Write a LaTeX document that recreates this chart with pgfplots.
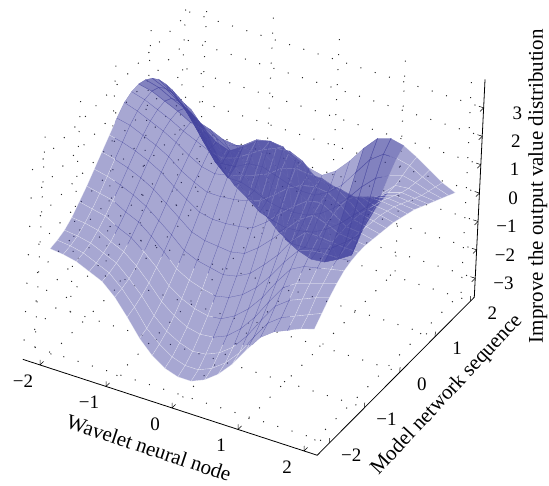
\documentclass[border=0pt]{standalone}
\usepackage{pgfplots}
\usepackage{pgfplotstable}
\pgfplotsset{compat=1.18}
\usepackage{fontspec}
\setmainfont{Liberation Serif}
\definecolor{surfc}{RGB}{60,60,155}
\definecolor{meshd}{RGB}{70,70,160}
\pgfplotstableread[row sep=\\]{
x y z\\
-2 -2 0\\ -2 -1.8 .05\\ -2 -1.6 .15\\ -2 -1.4 .35\\ -2 -1.2 .65\\ -2 -1 .95\\ -2 -.8 1.3\\ -2 -.6 1.65\\ -2 -.4 2\\ -2 -.2 2.35\\ -2 0 2.65\\ -2 .2 2.78\\ -2 .4 2.8\\ -2 .6 2.7\\ -2 .8 2.5\\ -2 1 2.2\\ -2 1.2 1.8\\ -2 1.4 1.35\\ -2 1.6 .85\\ -2 1.8 .35\\ -2 2 -.1\\
-1.8 -2 -.05\\ -1.8 -1.8 0\\ -1.8 -1.6 .1\\ -1.8 -1.4 .3\\ -1.8 -1.2 .55\\ -1.8 -1 .85\\ -1.8 -.8 1.2\\ -1.8 -.6 1.55\\ -1.8 -.4 1.9\\ -1.8 -.2 2.25\\ -1.8 0 2.5\\ -1.8 .2 2.65\\ -1.8 .4 2.7\\ -1.8 .6 2.58\\ -1.8 .8 2.3\\ -1.8 1 1.9\\ -1.8 1.2 1.4\\ -1.8 1.4 .85\\ -1.8 1.6 .3\\ -1.8 1.8 -.25\\ -1.8 2 -.6\\
-1.6 -2 -.15\\ -1.6 -1.8 -.1\\ -1.6 -1.6 0\\ -1.6 -1.4 .2\\ -1.6 -1.2 .45\\ -1.6 -1 .75\\ -1.6 -.8 1.05\\ -1.6 -.6 1.4\\ -1.6 -.4 1.75\\ -1.6 -.2 2.05\\ -1.6 0 2.3\\ -1.6 .2 2.45\\ -1.6 .4 2.5\\ -1.6 .6 2.35\\ -1.6 .8 2\\ -1.6 1 1.5\\ -1.6 1.2 .9\\ -1.6 1.4 .25\\ -1.6 1.6 -.4\\ -1.6 1.8 -.95\\ -1.6 2 -.95\\
-1.4 -2 -.35\\ -1.4 -1.8 -.3\\ -1.4 -1.6 -.2\\ -1.4 -1.4 -.05\\ -1.4 -1.2 .2\\ -1.4 -1 .5\\ -1.4 -.8 .85\\ -1.4 -.6 1.2\\ -1.4 -.4 1.55\\ -1.4 -.2 1.85\\ -1.4 0 2.1\\ -1.4 .2 2.25\\ -1.4 .4 2.3\\ -1.4 .6 2.15\\ -1.4 .8 1.75\\ -1.4 1 1.15\\ -1.4 1.2 .45\\ -1.4 1.4 -.3\\ -1.4 1.6 -1\\ -1.4 1.8 -1.3\\ -1.4 2 -1.1\\
-1.2 -2 -.55\\ -1.2 -1.8 -.5\\ -1.2 -1.6 -.4\\ -1.2 -1.4 -.25\\ -1.2 -1.2 0\\ -1.2 -1 .3\\ -1.2 -.8 .6\\ -1.2 -.6 .95\\ -1.2 -.4 1.3\\ -1.2 -.2 1.6\\ -1.2 0 1.85\\ -1.2 .2 2\\ -1.2 .4 2.05\\ -1.2 .6 1.85\\ -1.2 .8 1.4\\ -1.2 1 .75\\ -1.2 1.2 0\\ -1.2 1.4 -.8\\ -1.2 1.6 -1.4\\ -1.2 1.8 -1.25\\ -1.2 2 -.8\\
-1 -2 -.95\\ -1 -1.8 -.9\\ -1 -1.6 -.8\\ -1 -1.4 -.6\\ -1 -1.2 -.35\\ -1 -1 -.05\\ -1 -.8 .25\\ -1 -.6 .6\\ -1 -.4 .95\\ -1 -.2 1.25\\ -1 0 1.55\\ -1 .2 1.8\\ -1 .4 1.95\\ -1 .6 1.7\\ -1 .8 1.15\\ -1 1 .35\\ -1 1.2 -.5\\ -1 1.4 -1.25\\ -1 1.6 -1.4\\ -1 1.8 -1\\ -1 2 -.45\\
-.8 -2 -1.5\\ -.8 -1.8 -1.4\\ -.8 -1.6 -1.25\\ -.8 -1.4 -1.05\\ -.8 -1.2 -.75\\ -.8 -1 -.45\\ -.8 -.8 -.1\\ -.8 -.6 .25\\ -.8 -.4 .65\\ -.8 -.2 1\\ -.8 0 1.3\\ -.8 .2 1.6\\ -.8 .4 1.75\\ -.8 .6 1.5\\ -.8 .8 .9\\ -.8 1 .05\\ -.8 1.2 -.9\\ -.8 1.4 -1.55\\ -.8 1.6 -1.55\\ -.8 1.8 -.95\\ -.8 2 -.3\\
-.6 -2 -2.1\\ -.6 -1.8 -2\\ -.6 -1.6 -1.8\\ -.6 -1.4 -1.55\\ -.6 -1.2 -1.25\\ -.6 -1 -.9\\ -.6 -.8 -.5\\ -.6 -.6 -.1\\ -.6 -.4 .35\\ -.6 -.2 .8\\ -.6 0 1.2\\ -.6 .2 1.5\\ -.6 .4 1.7\\ -.6 .6 1.45\\ -.6 .8 .75\\ -.6 1 -.25\\ -.6 1.2 -1.3\\ -.6 1.4 -1.9\\ -.6 1.6 -1.75\\ -.6 1.8 -1.1\\ -.6 2 -.4\\
-.4 -2 -2.55\\ -.4 -1.8 -2.4\\ -.4 -1.6 -2.2\\ -.4 -1.4 -1.9\\ -.4 -1.2 -1.55\\ -.4 -1 -1.15\\ -.4 -.8 -.7\\ -.4 -.6 -.25\\ -.4 -.4 .25\\ -.4 -.2 .8\\ -.4 0 1.3\\ -.4 .2 1.65\\ -.4 .4 1.85\\ -.4 .6 1.45\\ -.4 .8 .55\\ -.4 1 -.6\\ -.4 1.2 -1.65\\ -.4 1.4 -2.05\\ -.4 1.6 -1.85\\ -.4 1.8 -1.25\\ -.4 2 -.6\\
-.2 -2 -2.85\\ -.2 -1.8 -2.7\\ -.2 -1.6 -2.45\\ -.2 -1.4 -2.15\\ -.2 -1.2 -1.75\\ -.2 -1 -1.3\\ -.2 -.8 -.8\\ -.2 -.6 -.3\\ -.2 -.4 .25\\ -.2 -.2 .85\\ -.2 0 1.45\\ -.2 .2 1.95\\ -.2 .4 2.2\\ -.2 .6 1.5\\ -.2 .8 .35\\ -.2 1 -1\\ -.2 1.2 -2.05\\ -.2 1.4 -2.15\\ -.2 1.6 -1.85\\ -.2 1.8 -1.35\\ -.2 2 -.8\\
0 -2 -3\\ 0 -1.8 -2.85\\ 0 -1.6 -2.6\\ 0 -1.4 -2.25\\ 0 -1.2 -1.85\\ 0 -1 -1.4\\ 0 -.8 -.9\\ 0 -.6 -.35\\ 0 -.4 .3\\ 0 -.2 .95\\ 0 0 1.6\\ 0 .2 2.25\\ 0 .4 2.3\\ 0 .6 1.2\\ 0 .8 -.2\\ 0 1 -1.9\\ 0 1.2 -2.3\\ 0 1.4 -2.1\\ 0 1.6 -1.8\\ 0 1.8 -1.35\\ 0 2 -.9\\
.2 -2 -3\\ .2 -1.8 -2.85\\ .2 -1.6 -2.55\\ .2 -1.4 -2.2\\ .2 -1.2 -1.8\\ .2 -1 -1.3\\ .2 -.8 -.8\\ .2 -.6 -.25\\ .2 -.4 .4\\ .2 -.2 1.1\\ .2 0 1.8\\ .2 .2 2.45\\ .2 .4 2.25\\ .2 .6 .9\\ .2 .8 -.7\\ .2 1 -2.15\\ .2 1.2 -2.3\\ .2 1.4 -2\\ .2 1.6 -1.6\\ .2 1.8 -1.1\\ .2 2 -.6\\
.4 -2 -2.8\\ .4 -1.8 -2.65\\ .4 -1.6 -2.35\\ .4 -1.4 -2\\ .4 -1.2 -1.55\\ .4 -1 -1.05\\ .4 -.8 -.55\\ .4 -.6 .1\\ .4 -.4 .75\\ .4 -.2 1.45\\ .4 0 2.15\\ .4 .2 2.5\\ .4 .4 1.85\\ .4 .6 .5\\ .4 .8 -1.05\\ .4 1 -2.3\\ .4 1.2 -2.2\\ .4 1.4 -1.75\\ .4 1.6 -1.25\\ .4 1.8 -.7\\ .4 2 -.1\\
.6 -2 -2.45\\ .6 -1.8 -2.3\\ .6 -1.6 -2\\ .6 -1.4 -1.6\\ .6 -1.2 -1.15\\ .6 -1 -.65\\ .6 -.8 -.1\\ .6 -.6 .55\\ .6 -.4 1.2\\ .6 -.2 1.85\\ .6 0 2.3\\ .6 .2 2.3\\ .6 .4 1.45\\ .6 .6 .15\\ .6 .8 -1.2\\ .6 1 -2.25\\ .6 1.2 -2\\ .6 1.4 -1.4\\ .6 1.6 -.75\\ .6 1.8 -.1\\ .6 2 .5\\
.8 -2 -1.95\\ .8 -1.8 -1.8\\ .8 -1.6 -1.45\\ .8 -1.4 -1.05\\ .8 -1.2 -.6\\ .8 -1 -.1\\ .8 -.8 .4\\ .8 -.6 1.05\\ .8 -.4 1.6\\ .8 -.2 2.1\\ .8 0 2.25\\ .8 .2 1.9\\ .8 .4 1\\ .8 .6 -.15\\ .8 .8 -1.25\\ .8 1 -2\\ .8 1.2 -1.65\\ .8 1.4 -.95\\ .8 1.6 -.2\\ .8 1.8 .5\\ .8 2 1\\
1 -2 -1.3\\ 1 -1.8 -1.1\\ 1 -1.6 -.75\\ 1 -1.4 -.35\\ 1 -1.2 .1\\ 1 -1 .55\\ 1 -.8 1.05\\ 1 -.6 1.55\\ 1 -.4 1.95\\ 1 -.2 2.2\\ 1 0 2.25\\ 1 .2 1.75\\ 1 .4 .9\\ 1 .6 -.15\\ 1 .8 -1.05\\ 1 1 -1.7\\ 1 1.2 -1.25\\ 1 1.4 -.5\\ 1 1.6 .25\\ 1 1.8 .85\\ 1 2 1.15\\
1.2 -2 -.7\\ 1.2 -1.8 -.45\\ 1.2 -1.6 -.1\\ 1.2 -1.4 .3\\ 1.2 -1.2 .7\\ 1.2 -1 1.1\\ 1.2 -.8 1.5\\ 1.2 -.6 1.85\\ 1.2 -.4 2.05\\ 1.2 -.2 2.15\\ 1.2 0 2.1\\ 1.2 .2 1.75\\ 1.2 .4 1.2\\ 1.2 .6 .55\\ 1.2 .8 -.05\\ 1.2 1 -.35\\ 1.2 1.2 -.25\\ 1.2 1.4 .1\\ 1.2 1.6 .5\\ 1.2 1.8 .85\\ 1.2 2 1.05\\
1.4 -2 -.35\\ 1.4 -1.8 -.1\\ 1.4 -1.6 .25\\ 1.4 -1.4 .6\\ 1.4 -1.2 .95\\ 1.4 -1 1.25\\ 1.4 -.8 1.5\\ 1.4 -.6 1.7\\ 1.4 -.4 1.8\\ 1.4 -.2 1.85\\ 1.4 0 1.8\\ 1.4 .2 1.65\\ 1.4 .4 1.4\\ 1.4 .6 1.15\\ 1.4 .8 .9\\ 1.4 1 .7\\ 1.4 1.2 .55\\ 1.4 1.4 .55\\ 1.4 1.6 .65\\ 1.4 1.8 .75\\ 1.4 2 .8\\
1.6 -2 -.15\\ 1.6 -1.8 .1\\ 1.6 -1.6 .45\\ 1.6 -1.4 .75\\ 1.6 -1.2 1.05\\ 1.6 -1 1.3\\ 1.6 -.8 1.45\\ 1.6 -.6 1.5\\ 1.6 -.4 1.5\\ 1.6 -.2 1.5\\ 1.6 0 1.45\\ 1.6 .2 1.35\\ 1.6 .4 1.25\\ 1.6 .6 1.15\\ 1.6 .8 1\\ 1.6 1 .85\\ 1.6 1.2 .7\\ 1.6 1.4 .6\\ 1.6 1.6 .55\\ 1.6 1.8 .5\\ 1.6 2 .5\\
1.8 -2 .05\\ 1.8 -1.8 .3\\ 1.8 -1.6 .65\\ 1.8 -1.4 .9\\ 1.8 -1.2 1.15\\ 1.8 -1 1.3\\ 1.8 -.8 1.4\\ 1.8 -.6 1.45\\ 1.8 -.4 1.45\\ 1.8 -.2 1.4\\ 1.8 0 1.35\\ 1.8 .2 1.3\\ 1.8 .4 1.2\\ 1.8 .6 1.1\\ 1.8 .8 .95\\ 1.8 1 .8\\ 1.8 1.2 .65\\ 1.8 1.4 .5\\ 1.8 1.6 .4\\ 1.8 1.8 .3\\ 1.8 2 .2\\
2 -2 .2\\ 2 -1.8 .5\\ 2 -1.6 .8\\ 2 -1.4 1.05\\ 2 -1.2 1.25\\ 2 -1 1.35\\ 2 -.8 1.4\\ 2 -.6 1.4\\ 2 -.4 1.35\\ 2 -.2 1.3\\ 2 0 1.25\\ 2 .2 1.2\\ 2 .4 1.1\\ 2 .6 1\\ 2 .8 .9\\ 2 1 .75\\ 2 1.2 .6\\ 2 1.4 .45\\ 2 1.6 .3\\ 2 1.8 .15\\ 2 2 0\\
}\surfdata
\pgfplotsset{boxgeom/.style={
  at={(252.7pt,264.3pt)},anchor=origin,
  x={(66pt,-21.5pt)},y={(35.3pt,35.5pt)},z={(1.4pt,28.4pt)},
  xmin=-2.18,xmax=2.28,ymin=-2.29,ymax=2.16,zmin=-3.67,zmax=4,
  clip=false}}
\begin{document}
\begin{tikzpicture}[x=1pt,y=1pt]
\useasboundingbox (0,0) rectangle (549,485);
\begin{axis}[boxgeom,
  xtick={-1.92,-0.92,0.08,1.08,2.08},xticklabels={−2,−1,0,1,2},
  ytick={-1.95,-0.95,0.05,1.05,2.05},yticklabels={−2,−1,0,1,2},
  ztick={-3,-2,-1,0,1,2,3},zticklabels={−3,−2,−1,0,1,2,3},
  axis x line*=bottom,axis y line*=left,axis z line*=right,
  axis line style={black,line width=0.8pt,-},
  tick style={black,line width=0.5pt},
  major tick length=5pt,
  tick label style={font=\fontsize{19}{22}\selectfont},
  xticklabel style={anchor=center,xshift=-17pt,yshift=-16pt},
  yticklabel style={anchor=center,xshift=22pt,yshift=-12pt},
  zticklabel style={anchor=east,xshift=42pt,yshift=-5pt},
  grid=major,
  major grid style={black!85,line width=1pt,dash pattern=on 1pt off 14pt},
  label style={font=\fontsize{21}{24}\selectfont},
  xlabel={Wavelet neural node},
  ylabel={Model network sequence},
  zlabel={Improve the output value distribution},
  xlabel style={at={(axis cs:0.27,-3.3,-3.67)},anchor=center,rotate=-18.5},
  ylabel style={at={(axis cs:3.08,-0.11,-3.67)},anchor=center,rotate=47},
  zlabel style={at={(axis cs:2.87,2.71,0)},anchor=center},
]
\addplot3[surf,shader=faceted,mesh/ordering=y varies,mesh/rows=21,mesh/cols=21,
  colormap={p}{color=(surfc) color=(surfc)},
  fill opacity=0.45,draw opacity=0.55,faceted color=white,line width=0.35pt]
  table[x=x,y=y,z=z] {\surfdata};
\addplot3[surf,shader=faceted,mesh/ordering=y varies,mesh/rows=21,mesh/cols=21,
  unbounded coords=jump,
  y filter/.expression={(\thisrow{x}<-1.1 ? (y<0.4 ? nan : y) : ((\thisrow{x}>0.5 && \thisrow{x}<1.25 && y>=1) ? y : nan))},
  colormap={p}{color=(surfc) color=(surfc)},
  fill opacity=0.35,draw opacity=0.3,faceted color=surfc,line width=0.3pt]
  table[x=x,y=y,z=z] {\surfdata};
\end{axis}
\begin{scope}
\clip (115,425) -- (115,245) -- (213,210) -- (213,140) -- (290,140) -- (290,210) -- (350,223) -- (392,335) -- (392,425) -- cycle;
\begin{axis}[boxgeom,hide axis]
\addplot3[mesh,mesh/ordering=y varies,mesh/rows=21,mesh/cols=21,color=meshd,
  draw opacity=0.55,line width=0.35pt]
  table[x=x,y=y,z=z] {\surfdata};
\end{axis}
\end{scope}
\end{tikzpicture}
\end{document}
